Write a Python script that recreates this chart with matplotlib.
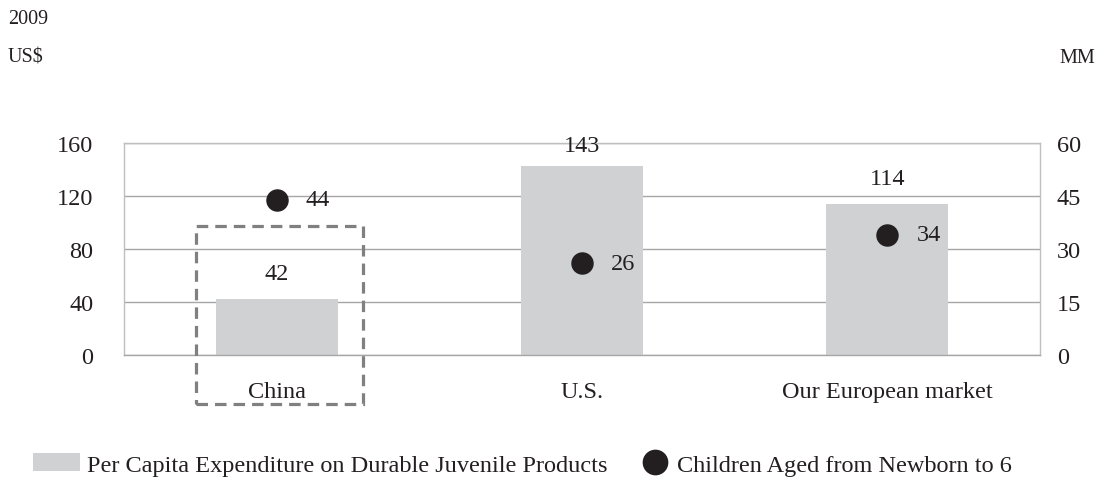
import matplotlib
matplotlib.use("Agg")
import matplotlib.pyplot as plt
from matplotlib.patches import Rectangle, Patch
from matplotlib.lines import Line2D

plt.rcParams['font.family'] = ['Liberation Serif', 'DejaVu Serif']

# Data
categories = ["China", "U.S.", "Our European market"]
expenditure_usd = [42, 143, 114]      # per capita expenditure, US$ (left axis)
children_mm = [44, 26, 34]            # children aged newborn to 6, MM (right axis)
left_ticks = [0, 40, 80, 120, 160]
right_ticks = [0, 15, 30, 45, 60]

ink = "#231f20"
bar_color = "#d0d1d3"
grid_color = "#a6a6a6"
frame_color = "#bfbfbf"
fs = 17.5
DPI = 100

fig = plt.figure(figsize=(11.03, 4.85), dpi=DPI)
ax = fig.add_axes([0.1124, 0.266, 0.8305, 0.437])
ax2 = ax.twinx()

x = list(range(len(categories)))
ax.bar(x, expenditure_usd, width=0.4, color=bar_color, zorder=2)
ax.set_xlim(-0.5, 2.5)
ax.set_ylim(0, 160)
ax.set_yticks(left_ticks)
ax.set_xticks(x)
ax.set_xticklabels(categories)
ax.yaxis.grid(True, color=grid_color, linewidth=1.0, zorder=0)
ax.set_axisbelow(True)
ax.tick_params(axis='both', length=0, labelsize=fs, colors=ink)
ax.tick_params(axis='y', pad=22)
ax.tick_params(axis='x', pad=19)
for s in ax.spines.values():
    s.set_color(frame_color)
    s.set_linewidth(1.0)
ax.spines['bottom'].set_color(grid_color)

# Value labels above the bars, kept inside the plot area
top_px = ax.transData.transform((0, ax.get_ylim()[1]))[1]
for xi, v in zip(x, expenditure_usd):
    bar_top_px = ax.transData.transform((xi, v))[1]
    rise_px = min(20.0, top_px - 8.0 - bar_top_px)
    ax.annotate(str(v), (xi, v), xytext=(0, rise_px * 72 / DPI),
                textcoords='offset points', ha='center', va='baseline',
                fontsize=fs, color=ink)

ax2.scatter(x, children_mm, s=230, color=ink, zorder=4)
ax2.set_ylim(0, 60)
ax2.set_yticks(right_ticks)
ax2.tick_params(axis='y', length=0, labelsize=fs, colors=ink, pad=12)
for s in ax2.spines.values():
    s.set_visible(False)
for xi, v in zip(x, children_mm):
    ax2.annotate(str(v), (xi, v), xytext=(21, 0), textcoords='offset points',
                 ha='left', va='center', fontsize=fs, color=ink)

# Dashed highlight box around China
hl = Rectangle((-0.265, -37), 0.547, 134.5, fill=False, edgecolor="#808080",
               linewidth=2.3, linestyle=(0, (3.6, 2.2)), clip_on=False, zorder=5)
ax.add_patch(hl)

fig.text(0.007, 0.959, "2009", fontsize=14.5, color=ink, va='center', ha='left')
fig.text(0.007, 0.880, "US$", fontsize=14.5, color=ink, va='center', ha='left')
fig.text(0.993, 0.880, "MM", fontsize=14.5, color=ink, va='center', ha='right')

leg_y = 0.040
leg1 = fig.legend(handles=[Patch(facecolor=bar_color, edgecolor='none')],
                  labels=["Per Capita Expenditure on Durable Juvenile Products"],
                  loc='center left', bbox_to_anchor=(0.030, leg_y), frameon=False,
                  fontsize=fs, handlelength=1.93, handleheight=0.75,
                  handletextpad=0.29, borderpad=0, borderaxespad=0,
                  labelcolor=ink)
leg2 = fig.legend(handles=[Line2D([], [], marker='o', linestyle='none',
                                 markersize=17.5, color=ink)],
                  labels=["Children Aged from Newborn to 6"],
                  loc='center left', bbox_to_anchor=(0.583, leg_y), frameon=False,
                  fontsize=fs, handlelength=1.0, handletextpad=0.41,
                  borderpad=0, borderaxespad=0, labelcolor=ink)

fig.savefig("out.png", dpi=DPI)
